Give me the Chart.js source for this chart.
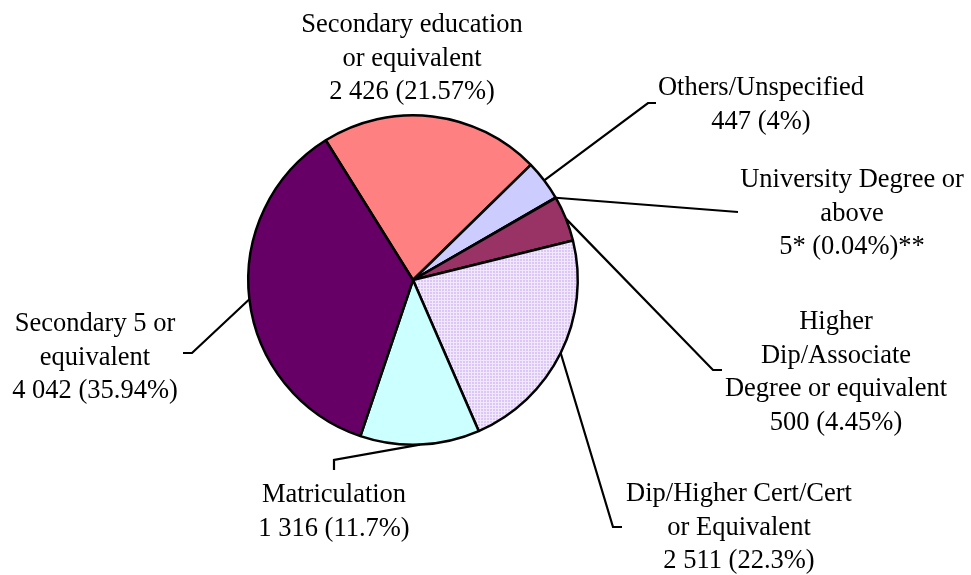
<!DOCTYPE html>
<html>
<head>
<meta charset="utf-8">
<script src="https://cdn.jsdelivr.net/npm/chart.js@4.4.0/dist/chart.umd.min.js"></script>
<style>
  html, body { margin: 0; padding: 0; background: #ffffff; }
  #wrap { width: 971px; height: 575px; }
</style>
</head>
<body>
<div id="wrap"><canvas id="c" width="971" height="575"></canvas></div>
<script>
// ---- data ----
const categories = [
  ["Secondary education", "or equivalent"],
  ["Others/Unspecified"],
  ["University Degree or", "above"],
  ["Higher", "Dip/Associate", "Degree or equivalent"],
  ["Dip/Higher Cert/Cert", "or Equivalent"],
  ["Matriculation"],
  ["Secondary 5 or", "equivalent"]
];
const values = [2426, 447, 5, 500, 2511, 1316, 4042];
const valueLabels = [
  "2 426 (21.57%)",
  "447 (4%)",
  "5* (0.04%)**",
  "500 (4.45%)",
  "2 511 (22.3%)",
  "1 316 (11.7%)",
  "4 042 (35.94%)"
];

// ---- styles / layout ----
function makePattern() {
  const p = document.createElement('canvas');
  p.width = 3; p.height = 3;
  const g = p.getContext('2d');
  g.fillStyle = '#DCC6F6';
  g.fillRect(0, 0, 3, 3);
  g.fillStyle = '#F2E8FC';
  g.fillRect(0, 0, 3, 1);
  g.fillRect(0, 0, 1, 3);
  return g.createPattern(p, 'repeat');
}
const colors = ['#FF8080', '#CCCCFF', '#0066CC', '#993366', makePattern(), '#CCFFFF', '#660066'];

// label anchors: centre x, first baseline y, and leader-line bend points
const labelLayout = [
  { x: 412, y: 32,  lead: [] },
  { x: 761, y: 95,  lead: [[648, 103], [656, 103]] },
  { x: 852, y: 187, lead: [[738, 212]] },
  { x: 836, y: 329, lead: [[713, 370], [722, 370]] },
  { x: 739, y: 501, lead: [[613, 527], [622, 527]] },
  { x: 334, y: 502, lead: [[334, 460], [334, 470]] },
  { x: 95,  y: 331, lead: [[192, 353], [183, 353]] }
];
const lineHeight = 33.5;

const labelPlugin = {
  id: 'pieLabels',
  afterDatasetsDraw(chart) {
    const ctx = chart.ctx;
    const meta = chart.getDatasetMeta(0);
    ctx.save();
    meta.data.forEach((arc, i) => {
      const L = labelLayout[i];
      const p = arc.getProps(['x', 'y', 'startAngle', 'endAngle', 'outerRadius'], true);
      const mid = (p.startAngle + p.endAngle) / 2;
      if (L.lead.length) {
        ctx.beginPath();
        ctx.strokeStyle = '#000';
        ctx.lineWidth = 2.2;
        ctx.lineJoin = 'miter';
        ctx.moveTo(p.x + Math.cos(mid) * p.outerRadius, p.y + Math.sin(mid) * p.outerRadius);
        L.lead.forEach(pt => ctx.lineTo(pt[0], pt[1]));
        ctx.stroke();
      }
      const lines = categories[i].concat([valueLabels[i]]);
      ctx.fillStyle = '#000';
      ctx.font = '26.5px "Liberation Serif", "Times New Roman", serif';
      ctx.textAlign = 'center';
      ctx.textBaseline = 'alphabetic';
      lines.forEach((t, k) => ctx.fillText(t, L.x, L.y + k * lineHeight));
    });
    ctx.restore();
  }
};

new Chart(document.getElementById('c'), {
  type: 'pie',
  data: {
    labels: categories.map(c => c.join(' ')),
    datasets: [{
      data: values,
      backgroundColor: colors,
      borderColor: '#000000',
      borderWidth: 2.5
    }]
  },
  options: {
    responsive: false,
    animation: false,
    rotation: -32,
    layout: { padding: { left: 0, right: 145, top: 114, bottom: 129 } },
    plugins: {
      legend: { display: false },
      tooltip: { enabled: false },
      title: { display: false }
    }
  },
  plugins: [labelPlugin]
});
</script>
</body>
</html>
